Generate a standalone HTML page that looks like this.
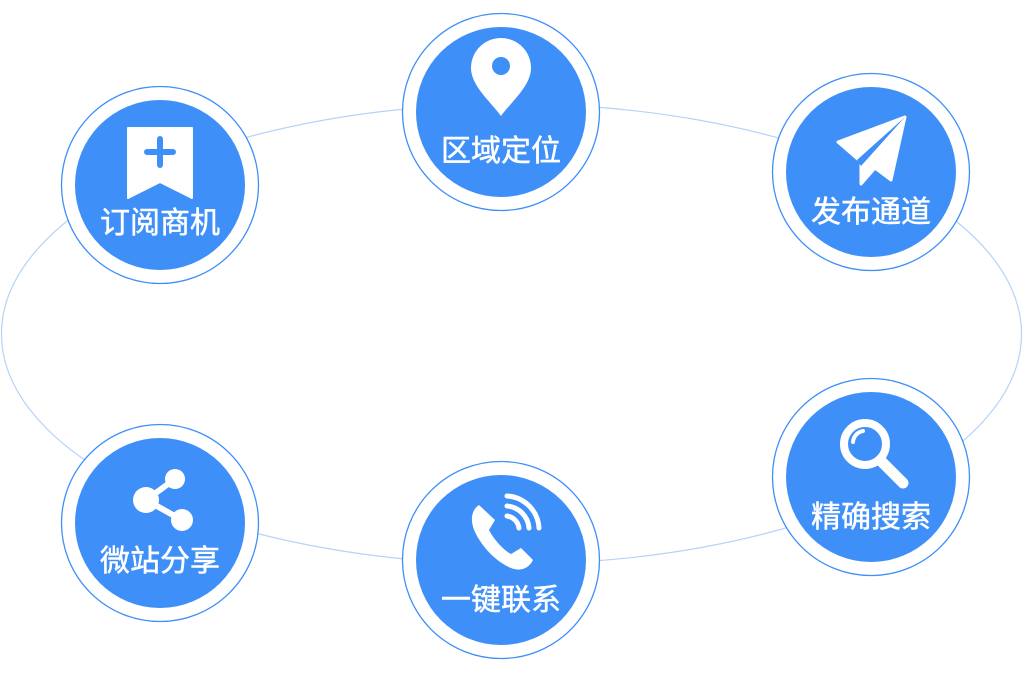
<!DOCTYPE html>
<html><head><meta charset="utf-8"><style>
html,body{margin:0;padding:0;background:#fff;width:1023px;height:674px;overflow:hidden}
text{font-family:"Liberation Sans","Noto Sans CJK SC",sans-serif;font-size:30px;font-weight:normal;fill:#fff;stroke:#fff;stroke-width:0.5}
</style></head><body>
<svg width="1023" height="674" viewBox="0 0 1023 674" xmlns="http://www.w3.org/2000/svg">
<ellipse cx="511.5" cy="334" rx="510" ry="230" fill="none" stroke="#b5d3f7" stroke-width="1.2"/>
<defs>
<g id="n">
<circle r="98.5" fill="#fff" stroke="#3e8ff8" stroke-width="1.3"/>
<circle r="85" fill="#3e8ff8"/>
</g>
</defs>
<g transform="translate(501,112)"><use href="#n"/>
<path d="M0,4 C-10,-10 -30,-26 -30,-44 A30,30 0 0 1 30,-44 C30,-26 10,-10 0,4Z" fill="#fff"/>
<circle cx="0" cy="-46" r="9" fill="#3e8ff8"/>
<text x="0" y="49" text-anchor="middle">区域定位</text></g>
<g transform="translate(160,185)"><use href="#n"/>
<path d="M-32,-57 h64 v70 l-32,-16 l-32,16z" fill="#fff" stroke="#fff" stroke-width="2" stroke-linejoin="round"/>
<path d="M0,-46 v26 M-13,-33 h26" stroke="#3e8ff8" stroke-width="6" stroke-linecap="round"/>
<text x="0" y="48" text-anchor="middle">订阅商机</text></g>
<g transform="translate(871,172)"><use href="#n"/>
<path d="M-33,-30 L34,-55 L20,8 L4,-4 L-10,12 L-10,-10 Z" fill="#fff" stroke="#fff" stroke-width="3" stroke-linejoin="round"/>
<path d="M34,-55 L-14,-12 L-10,-6 Z" fill="#3e8ff8"/>
<text x="0" y="50" text-anchor="middle">发布通道</text></g>
<g transform="translate(871,477)"><use href="#n"/>
<circle cx="-6" cy="-33" r="21" fill="none" stroke="#fff" stroke-width="8"/>
<path d="M10,-16 L32,6" stroke="#fff" stroke-width="11" stroke-linecap="round"/>
<path d="M-18,-35 A12,12 0 0 1 -8,-46" stroke="#fff" stroke-width="4" fill="none" stroke-linecap="round"/>
<text x="0" y="50" text-anchor="middle">精确搜索</text></g>
<g transform="translate(160,523)"><use href="#n"/>
<path d="M-14,-23 L15,-44 M-14,-23 L22,-3" stroke="#fff" stroke-width="6"/>
<circle cx="-14" cy="-23" r="13" fill="#fff"/>
<circle cx="15" cy="-44" r="10" fill="#fff"/>
<circle cx="22" cy="-3" r="11" fill="#fff"/>
<text x="0" y="48" text-anchor="middle">微站分享</text></g>
<g transform="translate(501,560)"><use href="#n"/>
<path d="M-22,-55 C-30,-50 -32,-38 -24,-24 C-16,-10 -4,2 10,8 C20,12 28,8 32,0 L20,-12 L10,-6 C2,-10 -8,-22 -12,-30 L-6,-40 Z" fill="#fff"/>
<path d="M6,-44 A14,14 0 0 1 18,-32 M6,-54 A24,24 0 0 1 28,-32 M6,-64 A34,34 0 0 1 38,-32" stroke="#fff" stroke-width="5" fill="none" stroke-linecap="round"/>
<text x="0" y="50" text-anchor="middle">一键联系</text></g>
</svg>
</body></html>
